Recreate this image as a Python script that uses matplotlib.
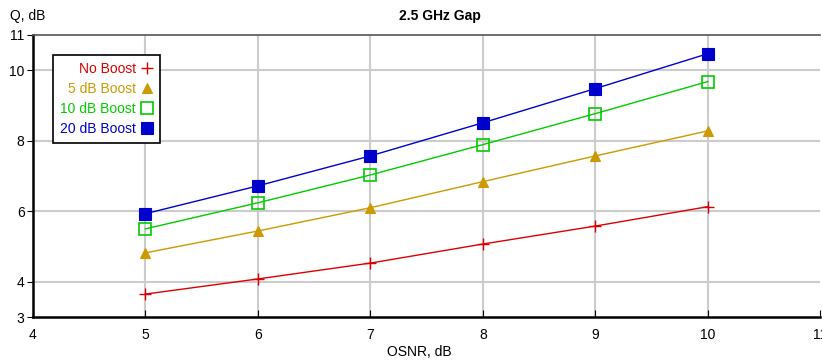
import matplotlib
matplotlib.use("Agg")
import matplotlib.pyplot as plt

plt.rcParams['font.family'] = ['Liberation Sans', 'DejaVu Sans']

# OSNR values (x) and Q values for each boost level
osnr = [5, 6, 7, 8, 9, 10]
q_no_boost = [3.65, 4.08, 4.53, 5.07, 5.58, 6.13]
q_5db = [4.82, 5.44, 6.10, 6.84, 7.57, 8.28]
q_10db = [5.50, 6.24, 7.03, 7.89, 8.77, 9.68]
q_20db = [5.93, 6.72, 7.57, 8.51, 9.48, 10.47]

series_labels = ["No Boost", "5 dB Boost", "10 dB Boost", "20 dB Boost"]
x_ticks = [4, 5, 6, 7, 8, 9, 10, 11]
y_ticks = [3, 4, 6, 8, 10, 11]

fig = plt.figure(figsize=(8.22, 3.6), dpi=100)
ax = fig.add_axes([0.040, 0.1194, 0.958, 0.7834])

styles = [
    dict(color="#dd0000", marker="+", markersize=9, markeredgewidth=1.0, mfc="none"),
    dict(color="#cc9900", marker="^", markersize=7, markeredgewidth=0.8),
    dict(color="#00cc00", marker="s", markersize=8, markeredgewidth=1.2, mfc="none"),
    dict(color="#0000cc", marker="s", markersize=8, markeredgewidth=0.8),
]
for ys, lab, st in zip([q_no_boost, q_5db, q_10db, q_20db], series_labels, styles):
    ax.plot(osnr, ys, linewidth=1.0, label=lab, **st)

ax.set_xlim(4, 11)
ax.set_ylim(3, 11)
ax.set_xticks(x_ticks)
ax.set_yticks(y_ticks)

# grid only on the interior ticks
for x in x_ticks[1:-1]:
    ax.axvline(x, color="#cccccc", linewidth=1.5, zorder=0)
for y in [4, 6, 8, 10]:
    ax.axhline(y, color="#cccccc", linewidth=1.5, zorder=0)

ax.tick_params(axis="x", direction="in", length=5, labelsize=10, pad=8)
ax.tick_params(axis="y", direction="out", length=4, labelsize=10, pad=2)

for side in ["left", "bottom"]:
    ax.spines[side].set_linewidth(1.8)
    ax.spines[side].set_color("black")
ax.spines["top"].set_linewidth(1.2)
ax.spines["top"].set_color("#555555")
ax.spines["right"].set_visible(False)

fig.text(0.535, 0.955, "2.5 GHz Gap", ha="center", va="center", fontsize=10, fontweight="bold")
fig.text(0.012, 0.955, "Q, dB", ha="left", va="center", fontsize=10)
fig.text(0.51, 0.022, "OSNR, dB", ha="center", va="center", fontsize=10)

leg = ax.legend(loc="upper left", bbox_to_anchor=(0.017, 0.955), markerfirst=False,
                handlelength=0.8, handletextpad=0.4, fontsize=10, fancybox=False,
                framealpha=1, edgecolor="black", borderpad=0.5, labelspacing=0.45)
leg.get_frame().set_linewidth(1.2)
for txt, st in zip(leg.get_texts(), styles):
    txt.set_color(st["color"])
    txt.set_ha("right")
for h in leg.legend_handles:
    h.set_linestyle("none")

fig.savefig("out.png", dpi=100)
